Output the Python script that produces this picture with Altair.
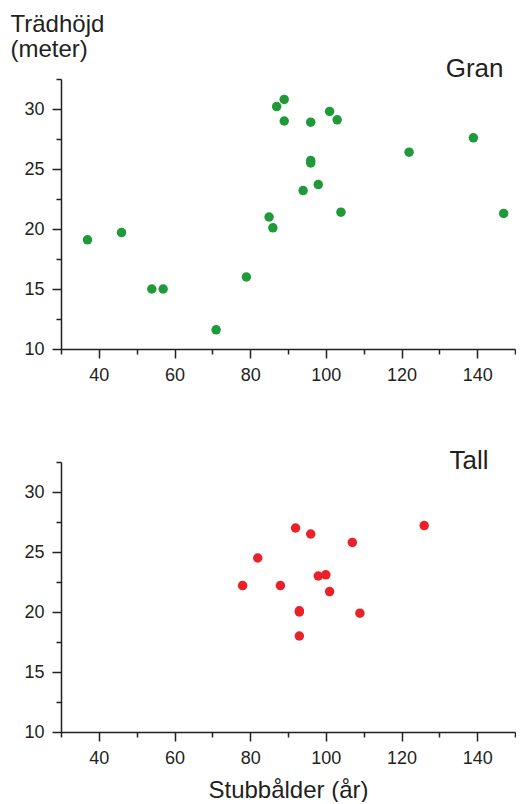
import altair as alt
import pandas as pd

# Gran (spruce)
gran_age = [87, 89, 89, 96, 101, 103, 122, 139, 96, 96, 98, 94, 37, 46, 54, 57, 71, 79, 85, 86, 104, 147]
gran_height = [30.2, 30.8, 29.0, 28.9, 29.8, 29.1, 26.4, 27.6, 25.7, 25.5, 23.7, 23.2,
               19.1, 19.7, 15.0, 15.0, 11.6, 16.0, 21.0, 20.1, 21.4, 21.3]

# Tall (pine)
tall_age = [92, 96, 107, 126, 82, 78, 88, 98, 100, 101, 93, 93, 109, 93]
tall_height = [27.0, 26.5, 25.8, 27.2, 24.5, 22.2, 22.2, 23.0, 23.1, 21.7, 20.1, 20.0, 19.9, 18.0]

x_ticks = [30, 40, 50, 60, 70, 80, 90, 100, 110, 120, 130, 140, 150]
y_ticks = [10, 12.5, 15, 17.5, 20, 22.5, 25, 27.5, 30, 32.5]

FONT = "Liberation Sans"
INK = "#231f20"
W, H = 454, 270

gran = pd.DataFrame({"age": gran_age, "height": gran_height})
tall = pd.DataFrame({"age": tall_age, "height": tall_height})

X_TICK = {"condition": {"test": "datum.value % 20 == 0", "value": 9}, "value": 5}
Y_TICK = {"condition": {"test": "datum.value % 5 == 0", "value": 9}, "value": 5}
X_LAB = "datum.value % 20 == 0 ? datum.label : ''"
Y_LAB = "datum.value % 5 == 0 ? datum.label : ''"
xscale = alt.Scale(domain=[30, 150], nice=False, zero=False)
yscale = alt.Scale(domain=[10, 32.5], nice=False, zero=False)

# Top panel: y-axis title is the unit label; the panel name "Gran" sits top-right
top = (
    alt.Chart(gran)
    .mark_circle(size=90, opacity=1, color="#1e9a38")
    .encode(
        x=alt.X(
            "age:Q", scale=xscale,
            axis=alt.Axis(
                values=x_ticks, labelExpr=X_LAB, tickSize=X_TICK,
                title="Gran", titleFontSize=26, titleAngle=0,
                titleAlign="right", titleBaseline="alphabetic",
                titleX=442, titleY=-273,
            ),
        ),
        y=alt.Y(
            "height:Q", scale=yscale,
            axis=alt.Axis(
                values=y_ticks, labelExpr=Y_LAB, tickSize=Y_TICK,
                title=["Trädhöjd", "(meter)"], titleAngle=0,
                titleAlign="left", titleBaseline="alphabetic",
                titleX=-51, titleY=-48, titleLineHeight=25,
            ),
        ),
    )
    .properties(width=W, height=H)
)

bottom = (
    alt.Chart(tall)
    .mark_circle(size=90, opacity=1, color="#ec2027")
    .encode(
        x=alt.X(
            "age:Q", scale=xscale,
            axis=alt.Axis(
                values=x_ticks, labelExpr=X_LAB, tickSize=X_TICK,
                title="Stubbålder (år)", titlePadding=11,
            ),
        ),
        y=alt.Y(
            "height:Q", scale=yscale,
            axis=alt.Axis(
                values=y_ticks, labelExpr=Y_LAB, tickSize=Y_TICK,
                title="Tall", titleFontSize=26, titleAngle=0,
                titleAlign="right", titleBaseline="alphabetic",
                titleX=427, titleY=6,
            ),
        ),
    )
    .properties(width=W, height=H)
)

chart = (
    alt.vconcat(top, bottom, spacing=63)
    .properties(padding={"left": 2, "top": 4, "right": 0, "bottom": 0})
    .configure_view(stroke=None)
    .configure_axis(
        grid=False,
        domainColor=INK,
        domainWidth=1.5,
        tickColor=INK,
        tickWidth=1.5,
        labelFont=FONT,
        labelFontSize=18,
        labelColor=INK,
        labelPadding=8,
        titleFont=FONT,
        titleFontSize=24,
        titleFontWeight="normal",
        titleColor=INK,
    )
)

chart.save("out.html", embed_options={"renderer": "svg", "actions": False})
